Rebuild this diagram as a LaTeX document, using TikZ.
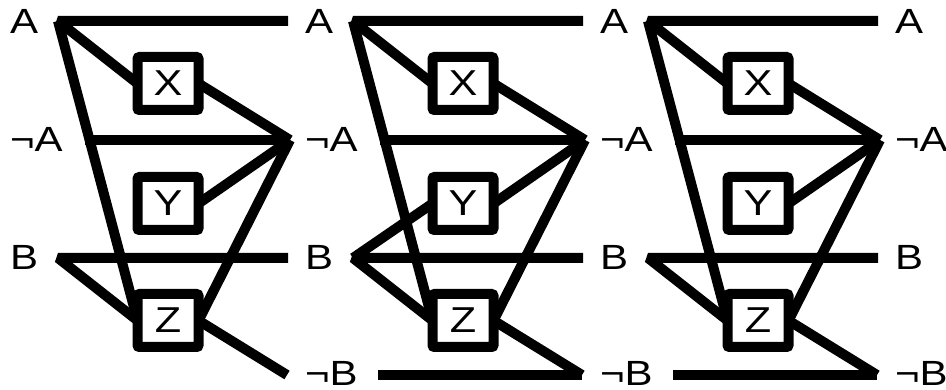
\documentclass[tikz,border=0pt]{standalone}
\usepackage{fontspec}
\newfontfamily\lblfont[FakeStretch=1.2]{Liberation Sans}
\usetikzlibrary{backgrounds}

\begin{document}
\begin{tikzpicture}[x=1pt, y=-1pt,
    wire/.style={line width=10pt, line join=bevel},
    gate/.style={draw, line width=10pt, fill=white, rounded corners=2pt,
                 minimum width=61pt, minimum height=53pt,
                 inner sep=0pt, outer sep=0pt, font=\fontsize{36}{40}\lblfont},
    lab/.style={anchor=west, inner sep=0pt, font=\fontsize{35}{40}\lblfont},
  ]
  \useasboundingbox (0,0) rectangle (946,390);

  % labels, first column
  \node[lab] (a0) at (10,21) {A};
  \node[lab] (na0) at (10,139) {¬A};
  \node[lab] (b0) at (10,257) {B};
  % labels, other columns
  \foreach \c in {1,2,3} {
    \node[lab] (a\c) at (10+295*\c,21) {A};
    \node[lab] (na\c) at (10+295*\c,139) {¬A};
    \node[lab] (b\c) at (10+295*\c,257) {B};
    \node[lab] (nb\c) at (10+295*\c,373) {¬B};
  }

  % gates and wire ends of each panel
  \foreach \p/\o in {1/0,2/295,3/590} {
    \node[gate] (x\p) at (168+\o,83.5) {X};
    \node[gate] (y\p) at (168+\o,203.5) {Y};
    \node[gate] (z\p) at (168+\o,320.5) {Z};
    \coordinate (al\p) at (58+\o,21);
    \coordinate (ar\p) at (288+\o,21);
    \coordinate (nal\p) at (85+\o,140);
    \coordinate (nar\p) at (290+\o,140);
    \coordinate (bl\p) at (58+\o,258);
    \coordinate (br\p) at (288+\o,258);
    \coordinate (nbl\p) at (83+\o,375);
    \coordinate (nbr\p) at (287+\o,375);
  }

  % wires
  \begin{scope}[on background layer]
    \foreach \p in {1,2,3} {
      \draw[wire] (ar\p) -- (al\p) -- (x\p.west);
      \draw[wire] (al\p) -- (z\p.west);
      \draw[wire] (nal\p) -- (nar\p);
      \draw[wire] (x\p.east) -- (nar\p);
      \draw[wire] (y\p.east) -- (nar\p);
      \draw[wire] (z\p.east) -- (nar\p);
      \draw[wire] (br\p) -- (bl\p) -- (z\p.west);
      \draw[wire] (z\p.east) -- (nbr\p);
    }
    \draw[wire] (bl2) -- (y2.west);
    \draw[wire] (nbl2) -- (nbr2);
    \draw[wire] (nbl3) -- (nbr3);
  \end{scope}
\end{tikzpicture}
\end{document}
